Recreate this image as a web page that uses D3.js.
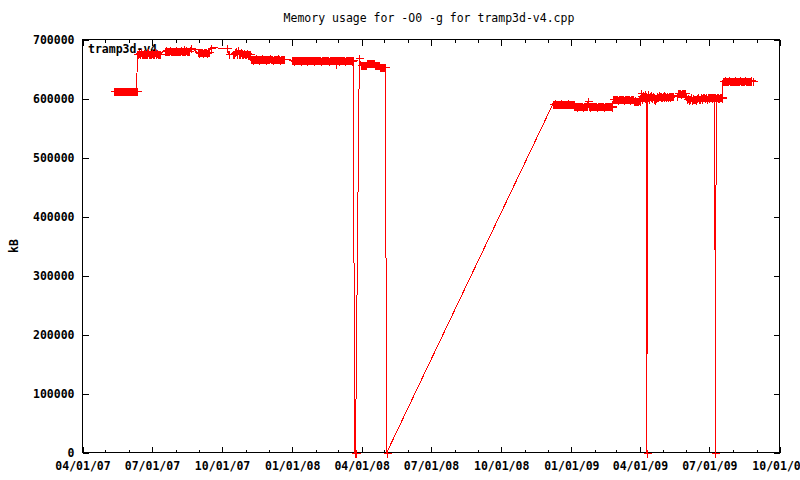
<!DOCTYPE html>
<html><head><meta charset="utf-8">
<script src="https://cdn.jsdelivr.net/npm/d3@7"></script>
<style>body{margin:0;background:#fff}svg{display:block}</style>
</head><body>
<svg id="c" width="800" height="480"></svg>
<script>
// Memory usage (kB) of nightly tests, runs of consecutive days.
// Values are in thousands of kB.
const runStart = [
  "2007-05-12","2007-06-12","2007-07-18","2007-08-21","2007-08-30","2007-09-16",
  "2007-10-08","2007-10-10","2007-10-16","2007-11-08","2008-01-01","2008-02-27",
  "2008-03-23","2008-03-29","2008-03-31","2008-05-04","2008-12-08","2009-01-05",
  "2009-02-25","2009-03-24","2009-04-02","2009-05-19","2009-05-21","2009-06-01",
  "2009-08-27"
];
const runValues = [
  [612,612,612,612,612,612,612,612,612,612,612,612,612,612,612,612,612,612,612,612,612,612,612,612,612,612,612,612,612,612,612],
  [676,675,677,676,676,678,675,676,677,676,675,676,676,677,679,676,675,676,676,677,676,675,676,678,676,676,677,675,676,676],
  [681,681,682,681,680,681,681,682,681,681,680,681,681,681,682,681,681,680,681,681,681,682,681,681,680,681,681,681,682,681,681,680,681],
  [686],
  [678,678,677,678,679,678,678,677,678,678,679,678,677,678,678,678],
  [686],
  [685],
  [675],
  [676,675,678,680,676,677,682,676,675,677,679,676,675,676,677,676,675,676,677,676,675,676,676],
  [667,667,667,666,667,667,668,667,667,667,667,666,667,667,667,668,667,667,667,667,666,667,667,667,667,668,667,667,667,666,667,667,667,667,667,668,667,667,666,667,667,667,667,667],
  [665,665,665,664,665,665,666,665,665,665,665,664,665,665,665,665,666,665,665,665,664,665,665,665,665,665,666,665,665,664,665,665,665,665,666,665,665,665,664,665,665,665,665,665,666,665,665,665,664,665,665,665,665,665,666,665,665],
  [658,665,665,665,664,665,665,666,665,665,665,665,664,665,665,665,665,666,665,665,665,665,664,665],
  [0,0],
  [669],
  [656,656,656,656,656,656,656,656,661,661,661,661,661,661,661,661,661,661,656,656,656,656,656,656,656,654,654,654,654,654,654,654,654],
  [0],
  [591,591,591,592,591,591,590,591,591,591,592,591,591,591,590,591,591,591,591,592,591,591,591,590,591,591,591,591],
  [587,587,587,586,587,587,588,587,587,587,587,586,587,587,587,588,587,587,595,587,587,586,587,587,587,587,588,587,587,587,586,587,587,587,587,588,587,587,587,586,587,587,587,587,588,587,587,587,587,586,587],
  [599,599,599,600,599,599,598,599,599,599,600,599,599,599,598,599,599,599,600,599,599,599,598,599,599,599,599],
  [596,596,597,596,595,596,596,597,596],
  [604,610,600,606,603,608,601,604,0,603,607,600,604,602,606,601,604,603,600,598,601,604,602,603,606,604,603,605,603,604,603,606,604,603,604,605,603,604,604,603,604,605,604],
  [605],
  [609,609,610,609,608,609,609,610,609,609],
  [605,600,601,598,599,600,602,598,600,601,599,600,598,600,601,603,600,599,600,602,601,600,603,602,601,603,602,600,603,602,601,603,602,603,601,602,603,602,0,601,602,601,602,601,603,602,601,603,630,630,630,631,630,629,630,630,631,630,630,629,630,630,630,631,630,630,629,630,630,630,631,630,630,629,630,630,630,631,630,630,629,630,630,630,631,630],
  [629]
];
const yTicks = [0,100000,200000,300000,400000,500000,600000,700000];
const titleText = "Memory usage for -O0 -g for tramp3d-v4.cpp";
const seriesName = "tramp3d-v4";
const yLabel = "kB";

const parse = d3.timeParse("%Y-%m-%d");
const points = [];
runStart.forEach((s, i) => {
  const d0 = parse(s);
  runValues[i].forEach((v, j) => points.push({date: d3.timeDay.offset(d0, j), value: v * 1000}));
});

const svg = d3.select("#c");
svg.append("rect").attr("width",800).attr("height",480).attr("fill","#fff");
const L = 82.5, R = 779.5, T = 39.5, B = 452.5;
const x = d3.scaleTime().domain([new Date(2007,3,1), new Date(2009,9,1)]).range([L, R]);
const y = d3.scaleLinear().domain([0,700000]).range([B, T]);

const FONT = "'DejaVu Sans Mono', monospace";
function styleAxis(g, bold) {
  g.select(".domain").remove();
  g.attr("font-family", FONT).attr("font-size", 11.5);
  g.selectAll("text").attr("fill","#000").attr("font-weight", bold ? "bold" : "normal");
  g.selectAll("line").attr("stroke","#000").attr("shape-rendering","crispEdges");
}

// legend text (drawn under data)
svg.append("text").attr("x", 88).attr("y", 53).text(seriesName)
  .attr("font-family", FONT).attr("font-size", 11.5).attr("font-weight","bold").attr("fill","#000");

// x axes
const major = d3.timeMonth.every(3), minor = d3.timeMonth.every(1);
const fmt = d3.timeFormat("%m/%d/%y");
svg.append("g").attr("transform",`translate(0,${B})`)
  .call(d3.axisBottom(x).ticks(minor).tickFormat("").tickSizeInner(-3).tickSizeOuter(0)).call(g=>styleAxis(g));
svg.append("g").attr("transform",`translate(0,${B})`)
  .call(d3.axisBottom(x).ticks(major).tickFormat(fmt).tickSizeInner(-6).tickSizeOuter(0).tickPadding(9)).call(g=>styleAxis(g,true));
svg.append("g").attr("transform",`translate(0,${T})`)
  .call(d3.axisTop(x).ticks(minor).tickFormat("").tickSizeInner(-3).tickSizeOuter(0)).call(g=>styleAxis(g));
svg.append("g").attr("transform",`translate(0,${T})`)
  .call(d3.axisTop(x).ticks(major).tickFormat("").tickSizeInner(-6).tickSizeOuter(0)).call(g=>styleAxis(g));
// y axes
svg.append("g").attr("transform",`translate(${L},0)`)
  .call(d3.axisLeft(y).tickValues(yTicks).tickFormat(d3.format("d")).tickSizeInner(-6).tickSizeOuter(0).tickPadding(8)).call(g=>styleAxis(g,true));
svg.append("g").attr("transform",`translate(${R},0)`)
  .call(d3.axisRight(y).tickValues(yTicks).tickFormat("").tickSizeInner(-6).tickSizeOuter(0)).call(g=>styleAxis(g));

// border
svg.append("rect").attr("x",L).attr("y",T).attr("width",R-L).attr("height",B-T)
  .attr("fill","none").attr("stroke","#000").attr("shape-rendering","crispEdges");

// legend sample
svg.append("line").attr("x1",168).attr("x2",200).attr("y1",49.5).attr("y2",49.5)
  .attr("stroke","#f00").attr("shape-rendering","crispEdges");
svg.append("path").attr("d","M-4,0H4M0,-4V4").attr("transform","translate(184.5,49.5)")
  .attr("stroke","#f00").attr("fill","none").attr("shape-rendering","crispEdges");

// data line + markers
const line = d3.line().x(d=>x(d.date)).y(d=>y(d.value));
svg.append("path").datum(points).attr("d",line).attr("fill","none")
  .attr("stroke","#f00").attr("stroke-width",1).attr("shape-rendering","crispEdges");
svg.append("g").selectAll("path").data(points).join("path")
  .attr("d","M-4,0H4M0,-4V4")
  .attr("transform",d=>`translate(${Math.round(x(d.date))+0.5},${Math.round(y(d.value))+0.5})`)
  .attr("stroke","#f00").attr("fill","none").attr("shape-rendering","crispEdges");

// title and y label
svg.append("text").attr("x",429).attr("y",22).attr("text-anchor","middle").text(titleText)
  .attr("font-family", FONT).attr("font-size", 11.5).attr("fill","#000");
svg.append("text").attr("transform","translate(18,246) rotate(-90)").attr("text-anchor","middle").text(yLabel)
  .attr("font-family", FONT).attr("font-size", 11.5).attr("font-weight","bold").attr("fill","#000");
</script>
</body></html>
